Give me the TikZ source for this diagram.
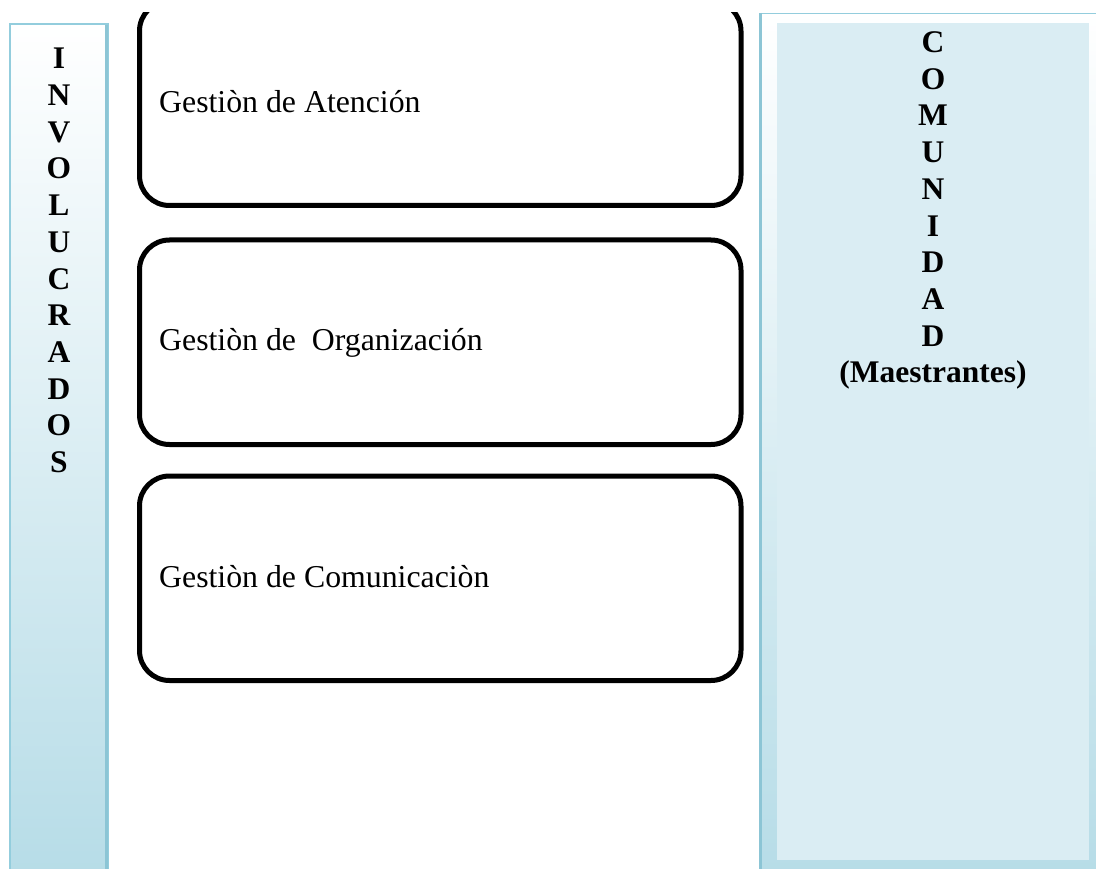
\documentclass[tikz,border=0pt]{standalone}
\usepackage{fontspec}
\setmainfont{Liberation Serif}
\definecolor{panelborder}{HTML}{93CDDD}
\definecolor{panelstripe}{HTML}{8CC5D5}
\definecolor{paneldark}{HTML}{B6DCE7}
\definecolor{panelinner}{HTML}{DAEDF3}
\begin{document}
\begin{tikzpicture}[x=1pt,y=-1pt,
  gbox/.style={draw=black, line width=5pt, rounded corners=30pt},
  gtext/.style={anchor=base west, inner sep=0pt, font=\fontsize{31.8}{36.7}\selectfont},
  vtext/.style={anchor=north, inner sep=0pt, align=center, font=\fontsize{31.5}{36.7}\selectfont\bfseries}]
\useasboundingbox (0,0) rectangle (1096,869);

% left panel
\path[top color=white, bottom color=paneldark] (10,24) rectangle (108,880);
\draw[panelborder, line width=2pt] (10,24) rectangle (108,880);
\draw[panelstripe, line width=3pt] (106,25) -- (106,880);
\node[vtext] (involucrados) at (59,48) {I\\N\\V\\O\\L\\U\\C\\R\\A\\D\\O\\S};

% right panel
\path[top color=white, bottom color=paneldark] (760,13) rectangle (1110,880);
\draw[panelborder, line width=1.5pt] (1110,13.5) -- (760.5,13.5);
\draw[panelstripe, line width=3pt] (760.5,13) -- (760.5,880);
\fill[panelinner] (777,23) rectangle (1089,860);
\node[vtext] (comunidad) at (933,31.5) {C\\O\\M\\U\\N\\I\\D\\A\\D\\(Maestrantes)};

% boxes
\begin{scope}
  \clip (110,13) rectangle (758,240);
  \draw[gbox] (139.5,1) rectangle (741,205.5);
\end{scope}
\draw[gbox] (139.5,240) rectangle (741,444.5);
\draw[gbox] (139.5,476) rectangle (741,680.5);

\node[gtext] (atencion) at (159,113) {Gestiòn de Atención};
\node[gtext] (organizacion) at (159,351) {Gestiòn de\ \ Organización};
\node[gtext] (comunicacion) at (159,587) {Gestiòn de Comunicaciòn};
\end{tikzpicture}
\end{document}
